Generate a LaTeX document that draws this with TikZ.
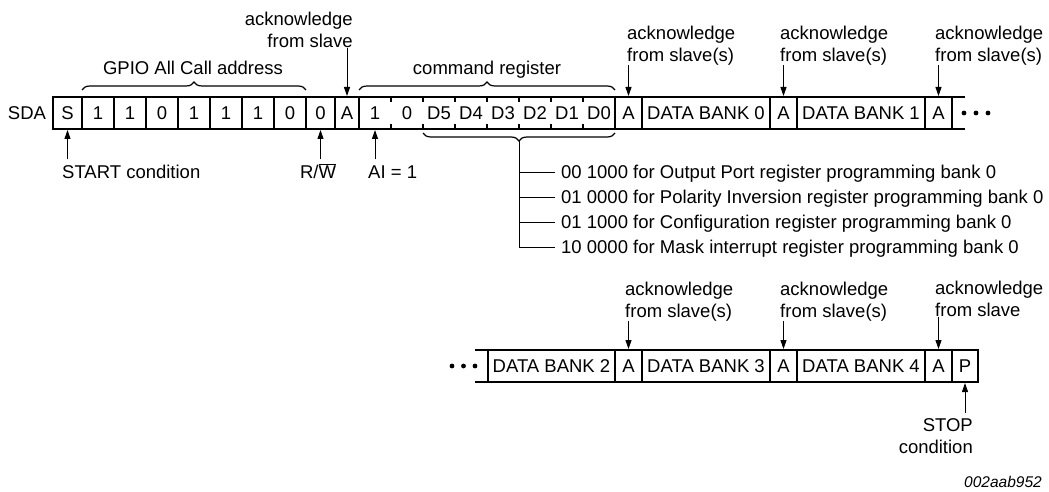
\documentclass[tikz,border=0pt]{standalone}
\usepackage{fontspec}
\setmainfont{Liberation Sans}
\usetikzlibrary{arrows.meta,decorations.pathreplacing,calc}

\tikzset{
    cell/.style={draw,line width=2pt,minimum height=32pt,inner sep=0pt,outer sep=0pt},
    bit/.style={minimum width=32pt,minimum height=32pt,inner sep=0pt,outer sep=0pt},
    lab/.style={inner sep=0pt,text height=13pt,text depth=0pt},
    twolines/.style={inner sep=0pt,align=left},
    opt/.style={lab,anchor=west,inner xsep=6pt},
    arr/.style={line width=1pt,-{Triangle[length=9pt,width=6pt]},shorten >=1pt},
    cbrace/.style={decorate,decoration={brace,amplitude=8pt},line width=1.2pt},
    frame/.style={line width=2pt}
}

\begin{document}
\begin{tikzpicture}[x=1pt,y=-1pt,font=\fontsize{18.5}{21.5}\selectfont]
        \useasboundingbox (0,0) rectangle (1049,492);
        \node[lab] (sda) at (27,113) {SDA};
        \begin{scope}[every node/.style={cell,minimum width=32pt}]
            \node[minimum width=29pt] (s) at (67.5,113) {S};
            \foreach \v [count=\i] in {1,1,0,1,1,1,0}
                \node (b\i) at (66+32*\i,113) {\v};
            \node[minimum width=29pt]  (rw)   at (320.5,113) {0};
            \node[minimum width=24pt]  (ack1) at (347,113)   {A};
            \node[minimum width=27pt]  (ack2) at (628.5,113) {A};
            \node[minimum width=128pt] (db0)  at (706,113)   {DATA BANK 0};
            \node[minimum width=27pt]  (ack3) at (783.5,113) {A};
            \node[minimum width=128pt] (db1)  at (861,113)   {DATA BANK 1};
            \node[minimum width=27pt]  (ack4) at (938.5,113) {A};
            \node[minimum width=127pt] (db2)  at (551.5,366) {DATA BANK 2};
            \node[minimum width=27pt]  (ack5) at (628.5,366) {A};
            \node[minimum width=128pt] (db3)  at (706,366)   {DATA BANK 3};
            \node[minimum width=27pt]  (ack6) at (783.5,366) {A};
            \node[minimum width=128pt] (db4)  at (861,366)   {DATA BANK 4};
            \node[minimum width=27pt]  (ack7) at (938.5,366) {A};
            \node[minimum width=26pt]  (p)    at (965,366)   {P};
        \end{scope}
        \foreach \v [count=\i] in {1,0,D5,D4,D3,D2,D1,D0}
            \node[bit] (c\i) at (343+32*\i,113) {\v};
        \begin{scope}[frame]
            \draw (c1.north west) -- (c8.north east) (c1.south west) -- (c8.south east);
            \foreach \i in {1,...,7}
                \draw (c\i.north east) -- ++(0,5) (c\i.south east) -- ++(0,-5);
            \draw (ack4.north east) -- ++(13,0) (ack4.south east) -- ++(13,0);
            \draw (db2.north west) -- ++(-13,0) (db2.south west) -- ++(-13,0);
        \end{scope}
        \foreach \x in {964,976,988} \fill (\x,113) circle (2.4);
        \foreach \x in {452,463.5,475} \fill (\x,366) circle (2.4);
        % braces
        \draw[cbrace] ([yshift=7pt]b1.north west) -- ([yshift=7pt]b7.north east);
        \draw[cbrace] ([yshift=7pt]c1.north west) -- ([yshift=7pt]c8.north east);
        \draw[cbrace] ([yshift=-4pt]c8.south east) -- ([yshift=-4pt]c3.south west);
        \coordinate (tip) at ($(c3.south west)!.5!(c8.south east)+(0,12)$);
        \node[lab] (gpio) at (193,68) {GPIO All Call address};
        \node[lab] (cmd)  at (487,68) {command register};
        % labels
        \node[twolines,align=right,anchor=east] (ackl1) at (353,30) {acknowledge\\from slave};
        \node[twolines,anchor=west] (ackl2) at (627,45.5) {acknowledge\\from slave(s)};
        \node[twolines,anchor=west] (ackl3) at (780,45.5) {acknowledge\\from slave(s)};
        \node[twolines,anchor=west] (ackl4) at (935,45.5) {acknowledge\\from slave(s)};
        \node[twolines,anchor=west] (ackl5) at (625,301.5) {acknowledge\\from slave(s)};
        \node[twolines,anchor=west] (ackl6) at (780,301.5) {acknowledge\\from slave(s)};
        \node[twolines,anchor=west] (ackl7) at (935,299) {acknowledge\\from slave};
        \node[lab,anchor=west] (startl) at (62,172) {START condition};
        \node[lab] (rwl) at (318,172) {R/$\overline{\mbox{W}}$};
        \node[lab,anchor=west] (ail) at (368,172) {AI = 1};
        \node[twolines,align=right,anchor=east] (stopl) at (973,436) {STOP\\condition};
        \node[opt] (o1) at (555,172) {00 1000 for Output Port register programming bank 0};
        \node[opt] (o2) at (555,197) {01 0000 for Polarity Inversion register programming bank 0};
        \node[opt] (o3) at (555,222) {01 1000 for Configuration register programming bank 0};
        \node[opt] (o4) at (555,247) {10 0000 for Mask interrupt register programming bank 0};
        \node[lab,anchor=east,font=\fontsize{15.5}{18}\selectfont\itshape,text height=11pt] (code) at (1042,482) {002aab952};
        % connectors
        \begin{scope}[line width=1pt]
            \draw (tip) |- (o4.west);
            \foreach \o in {o1,o2,o3}
                \draw (tip |- \o.west) -- (\o.west);
        \end{scope}
        \foreach \l/\c in {ackl1/ack1,ackl2/ack2,ackl3/ack3,ackl4/ack4,ackl5/ack5,ackl6/ack6,ackl7/ack7}
            \draw[arr] (\l.south -| \c.north) -- (\c.north);
        \draw[arr,shorten <=6pt] (startl.north -| s.south) -- (s.south);
        \draw[arr,shorten <=6pt] (rwl.north -| rw.south) -- (rw.south);
        \draw[arr,shorten <=6pt] (ail.north -| c1.south) -- (c1.south);
        \draw[arr,shorten <=6pt] (stopl.north -| p.south) -- (p.south);
\end{tikzpicture}
\end{document}
